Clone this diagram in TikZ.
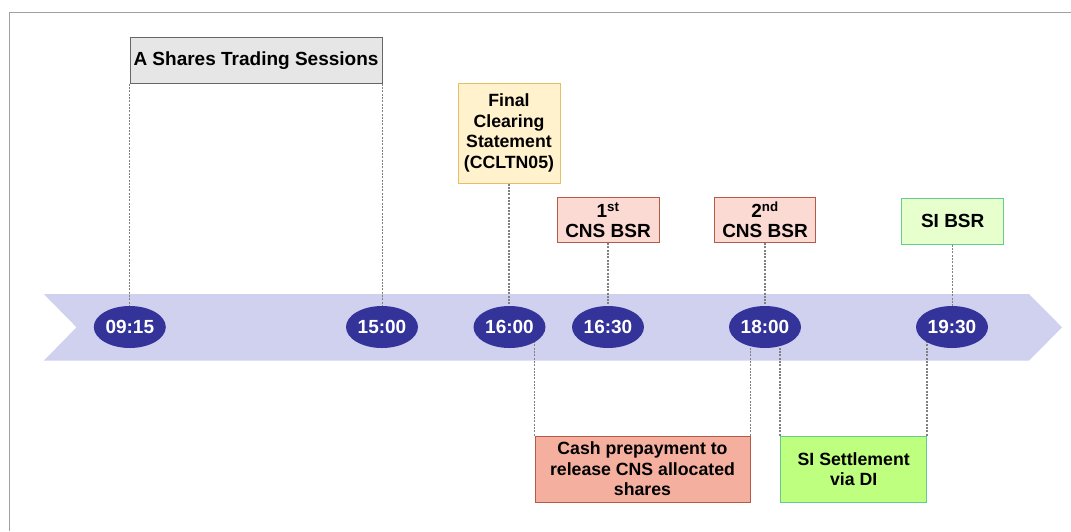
\documentclass[tikz,border=0pt]{standalone}
\usepackage{fontspec}
\setmainfont{Liberation Sans}
\usetikzlibrary{shapes.geometric,backgrounds}

\definecolor{bandcol}{RGB}{208,209,238}
\definecolor{timecol}{RGB}{51,51,153}
\definecolor{framecol}{RGB}{160,160,160}
\definecolor{dotcol}{RGB}{128,128,128}
\definecolor{greyfill}{RGB}{230,230,230}
\definecolor{greyline}{RGB}{102,102,102}
\definecolor{yelfill}{RGB}{255,242,204}
\definecolor{yelline}{RGB}{230,190,100}
\definecolor{pinkfill}{RGB}{250,218,210}
\definecolor{pinkline}{RGB}{180,90,70}
\definecolor{lgreenfill}{RGB}{230,255,204}
\definecolor{greenline}{RGB}{100,205,140}
\definecolor{cashfill}{RGB}{245,175,158}
\definecolor{settlefill}{RGB}{191,255,128}

\tikzset{
  timeell/.style={ellipse, fill=timecol, text=white, inner sep=0pt,
    minimum width=72pt, minimum height=42pt,
    font=\fontsize{19}{22}\selectfont\bfseries},
  evbox/.style={rectangle, draw, line width=1pt, inner sep=0pt, align=center,
    font=\fontsize{19}{20}\selectfont\bfseries},
  lowbox/.style={rectangle, draw, line width=1pt, inner sep=0pt, align=center,
    font=\fontsize{17.7}{20.5}\selectfont\bfseries},
  conn/.style={dotcol, line width=1.5pt, dash pattern=on 2pt off 1.3pt}
}

\begin{document}
\begin{tikzpicture}[x=1pt,y=-1pt]
    \useasboundingbox (0,0) rectangle (1071,531);
    \draw[framecol, line width=1pt] (9.3,531) -- (9.3,12.3) -- (1071,12.3);

    % time points
    \node[timeell] (t0915) at (129.8,327) {09:15};
    \node[timeell] (t1500) at (382,327) {15:00};
    \node[timeell] (t1600) at (509.5,327) {16:00};
    \node[timeell] (t1630) at (608,327) {16:30};
    \node[timeell] (t1800) at (765,327) {18:00};
    \node[timeell] (t1930) at (952,327) {19:30};

    % boxes above
    \node[evbox, fill=greyfill, draw=greyline, minimum width=252pt, minimum height=46pt] (trade) at (256,60.3) {A Shares Trading Sessions};
    \node[lowbox, fill=yelfill, draw=yelline, minimum width=102pt, minimum height=100pt] (final) at (509,133) {Final\\Clearing\\Statement\\(CCLTN05)};
    \node[evbox, fill=pinkfill, draw=pinkline, minimum width=102pt, minimum height=45pt] (cns1) at (608,220) {1\textsuperscript{st}\\CNS BSR};
    \node[evbox, fill=pinkfill, draw=pinkline, minimum width=101pt, minimum height=45pt] (cns2) at (765,220) {2\textsuperscript{nd}\\CNS BSR};
    \node[evbox, fill=lgreenfill, draw=greenline, minimum width=102pt, minimum height=46pt] (sibsr) at (952.7,221.3) {SI BSR};

    % boxes below
    \node[lowbox, fill=cashfill, draw=pinkline, minimum width=215pt, minimum height=66pt] (cash) at (642.5,469) {Cash prepayment to\\release CNS allocated\\shares};
    \node[lowbox, fill=settlefill, draw=greenline, minimum width=146pt, minimum height=66pt] (settle) at (853.7,469) {SI Settlement\\via DI};

    \begin{pgfonlayer}{background}
      \fill[bandcol] (43.8,294) -- (1029,294) -- (1062,327.3) -- (1029,360.7) -- (43.8,360.7) -- (76.5,327.3) -- cycle;
      \draw[conn] (trade.south west) -- (trade.south west |- t0915.center);
      \draw[conn] (trade.south east) -- (trade.south east |- t1500.center);
      \draw[conn] (final.south) -- (final.south |- t1600.center);
      \draw[conn] (cns1.south) -- (cns1.south |- t1630.center);
      \draw[conn] (cns2.south) -- (cns2.south |- t1800.center);
      \draw[conn] (sibsr.south) -- (sibsr.south |- t1930.center);
      \draw[conn] (cash.north west) -- (cash.north west |- t1600.center);
      \draw[conn] (cash.north east) -- (cash.north east |- t1800.center);
      \draw[conn] (settle.north west) -- (settle.north west |- t1800.center);
      \draw[conn] (settle.north east) -- (settle.north east |- t1930.center);
    \end{pgfonlayer}
\end{tikzpicture}
\end{document}
